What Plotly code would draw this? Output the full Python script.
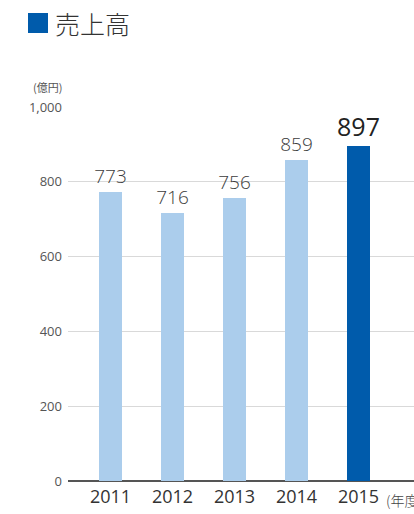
import plotly.graph_objects as go

years = ["2011", "2012", "2013", "2014", "2015"]
sales = [773, 716, 756, 859, 897]
bar_colors = ["#abcdec", "#abcdec", "#abcdec", "#abcdec", "#005bab"]
label_sizes = [19, 19, 19, 19, 25]
label_colors = ["#3c3c3c", "#3c3c3c", "#3c3c3c", "#3c3c3c", "#222222"]
label_weights = [300, 300, 300, 300, 400]
y_ticks = [0, 200, 400, 600, 800, 1000]
y_tick_text = ["0", "200", "400", "600", "800", "1,000"]

FONT = "Noto Sans CJK JP"
NUMFONT = "Open Sans"

fig = go.Figure()
fig.add_trace(go.Bar(
    x=list(range(len(years))),
    y=sales,
    width=0.37,
    marker=dict(color=bar_colors, line=dict(width=0)),
    text=[str(v) for v in sales],
    textposition="outside",
    constraintext="none",
    textfont=dict(size=label_sizes, color=label_colors, family=NUMFONT,
                  weight=label_weights),
    cliponaxis=False,
    hoverinfo="skip",
))

fig.update_layout(
    width=414, height=514,
    margin=dict(l=68, r=0, t=107, b=33),
    paper_bgcolor="white", plot_bgcolor="white",
    showlegend=False,
    font=dict(family=FONT, color="#444444"),
    bargap=0,
)
fig.update_xaxes(
    range=[-0.685, 4.895],
    tickmode="array",
    tickvals=list(range(len(years))),
    ticktext=years,
    tickfont=dict(size=18, color="#333333", family=NUMFONT),
    showgrid=False, zeroline=False, showline=False, ticks="",
    ticklabelstandoff=3,
)
fig.update_yaxes(
    range=[0, 1000],
    tickmode="array",
    tickvals=y_ticks,
    ticktext=y_tick_text,
    tickfont=dict(size=13, color="#555555", family=NUMFONT),
    showgrid=True, gridcolor="#d9d9d9", gridwidth=1,
    zeroline=True, zerolinecolor="#555555", zerolinewidth=1.5,
    showline=False, ticks="", ticklabelstandoff=5,
)

# title square and text
fig.add_shape(type="rect", xref="paper", yref="paper",
              x0=(28 - 68) / 346, x1=(48 - 68) / 346,
              y0=(481 - 33) / 374, y1=(481 - 13) / 374,
              fillcolor="#005bab", line=dict(width=0))
fig.add_annotation(text="売上高", xref="paper", yref="paper",
                   x=(53 - 68) / 346, y=(481 - 23) / 374,
                   xanchor="left", yanchor="middle", showarrow=False,
                   font=dict(size=25, color="#333333", family=FONT, weight=300))
fig.add_annotation(text="(億円)", xref="paper", yref="paper",
                   x=(64 - 68) / 346, y=(481 - 87) / 374,
                   xanchor="right", yanchor="middle", showarrow=False,
                   font=dict(size=11, color="#555555", family=FONT))
fig.add_annotation(text="(年度)", xref="paper", yref="paper",
                   x=(384 - 68) / 346, y=(481 - 500) / 374,
                   xanchor="left", yanchor="middle", showarrow=False,
                   font=dict(size=14, color="#444444", family=FONT, weight=300))

fig.write_html("out.html")
